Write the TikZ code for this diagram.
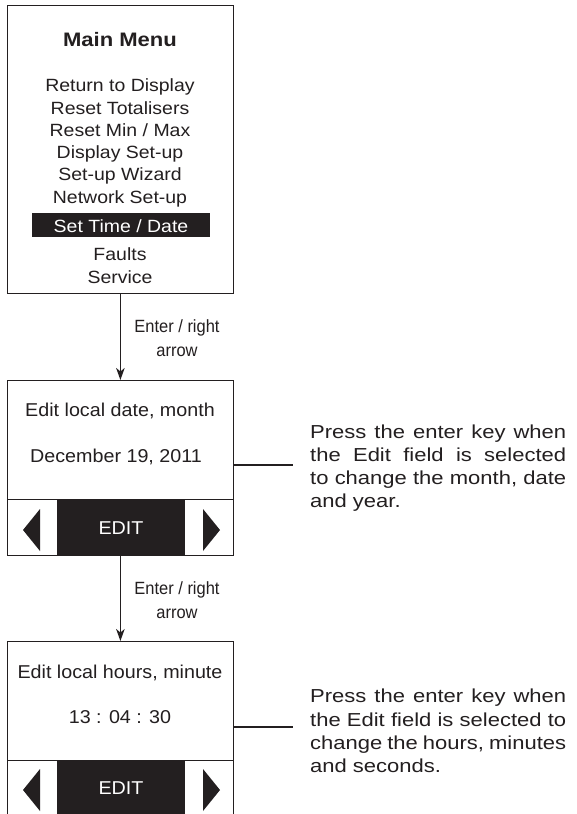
\documentclass[tikz,border=0pt]{standalone}
\usepackage{fontspec}
\setmainfont{Liberation Sans}
\newfontfamily\menufont[FakeStretch=1.1]{Liberation Sans}
\newfontfamily\titlefont[FakeStretch=1.13]{Liberation Sans}
\newfontfamily\boxfont[FakeStretch=1.06]{Liberation Sans}
\newfontfamily\lblfont[FakeStretch=0.93]{Liberation Sans}
\newfontfamily\notefont[FakeStretch=1.17]{Liberation Sans}
\usetikzlibrary{arrows.meta}
\definecolor{ink}{HTML}{231F20}
\begin{document}
\begin{tikzpicture}[x=1pt,y=-1pt,
  frame/.style={draw=ink, line width=1.3pt, fill=white, inner sep=0pt, anchor=north west},
  blackcell/.style={fill=ink, inner sep=0pt, anchor=north west, minimum width=128pt, minimum height=56pt},
  titletext/.style={anchor=base, inner sep=0pt, text=ink, font=\titlefont\bfseries\fontsize{19.5}{22}\selectfont},
  item/.style={anchor=base, inner sep=0pt, text=ink, font=\menufont\fontsize{17.7}{20}\selectfont},
  hlitem/.style={anchor=base, inner sep=0pt, text=white, font=\menufont\fontsize{17.7}{20}\selectfont},
  boxtext/.style={anchor=base, inner sep=0pt, text=ink, font=\boxfont\fontsize{18.6}{21}\selectfont},
  edittext/.style={anchor=base, inner sep=0pt, text=white, font=\boxfont\fontsize{18.6}{21}\selectfont},
  lbl/.style={anchor=base, inner sep=0pt, text=ink, font=\lblfont\fontsize{17.7}{20}\selectfont},
  note/.style={anchor=base west, inner sep=0pt, text=ink, font=\notefont\fontsize{18.8}{22}\selectfont},
  flow/.style={draw=ink, line width=1.3pt, -{Stealth[length=12pt,width=8.5pt,inset=3.5pt]}},
  lead/.style={draw=ink, line width=1.1pt},
  tri/.style={fill=ink}
]
\clip (0,0) rectangle (577,814);
\fill[white] (0,0) rectangle (577,814);

% ---------- Main menu ----------
\node[frame, minimum width=225.5pt, minimum height=288pt] (menu) at (7,5) {};
\node[titletext] (title) at (120,46.7) {Main Menu};
\node[item] (m1) at (120,91.7) {Return to Display};
\node[item] (m2) at (120,114.0) {Reset Totalisers};
\node[item] (m3) at (120,136.3) {Reset Min / Max};
\node[item] (m4) at (120,158.6) {Display Set-up};
\node[item] (m5) at (120,180.9) {Set-up Wizard};
\node[item] (m6) at (120,203.2) {Network Set-up};
\node[fill=ink, inner sep=0pt, anchor=north west, minimum width=178pt, minimum height=24pt] (hl) at (32,213) {};
\node[hlitem] (m7) at (121,232.3) {Set Time / Date};
\node[item] (m8) at (120,260.7) {Faults};
\node[item] (m9) at (120,283.3) {Service};

% ---------- Screen 2 ----------
\node[frame, minimum width=225.5pt, minimum height=175pt] (b2) at (7,380) {};
\node[frame, minimum width=225.5pt, minimum height=56pt] (r2) at (7,499) {};
\node[blackcell] (e2) at (57,499) {};
\node[edittext] (edit2) at (121,534.3) {EDIT};
\fill[tri] (23,530) -- (40,509) -- (40,551) -- cycle;
\fill[tri] (203,509) -- (220,530) -- (203,551) -- cycle;
\node[boxtext] (t2a) at (120,416.7) {Edit local date, month};
\node[boxtext] (t2b) at (116,462.7) {December 19, 2011};

% ---------- Screen 3 ----------
\node[frame, minimum width=225.5pt, minimum height=175pt] (b3) at (7,641) {};
\node[frame, minimum width=225.5pt, minimum height=56pt] (r3) at (7,760) {};
\node[blackcell] (e3) at (57,760) {};
\node[edittext] (edit3) at (121,794.3) {EDIT};
\fill[tri] (23,790) -- (40,769) -- (40,811) -- cycle;
\fill[tri] (203,769) -- (220,790) -- (203,811) -- cycle;
\node[boxtext] (t3a) at (120,678.3) {Edit local hours, minute};
\node[boxtext] (t3b) at (120,723.3) {13 : 04 : 30};

% ---------- Flow arrows ----------
\draw[flow] (menu.south) -- (b2.north);
\node[lbl] (l1a) at (177,332.7) {Enter / right};
\node[lbl] (l1b) at (177,356.5) {arrow};
\draw[flow] (r2.south) -- (b3.north);
\node[lbl] (l2a) at (177,594.3) {Enter / right};
\node[lbl] (l2b) at (177,618) {arrow};

% ---------- Notes ----------
\coordinate (c1) at (293,465);
\draw[lead] (b2.east |- c1) -- (c1);
\node[note] (n1a) at (310,438) {\makebox[256pt][s]{Press the enter key when}};
\node[note] (n1b) at (310,461.3) {\makebox[256pt][s]{the Edit field is selected}};
\node[note] (n1c) at (310,484.6) {\makebox[256pt][s]{to change the month, date}};
\node[note] (n1d) at (310,507.9) {and year.};

\coordinate (c2) at (293,727);
\draw[lead] (b3.east |- c2) -- (c2);
\node[note] (n2a) at (310,702.7) {\makebox[256pt][s]{Press the enter key when}};
\node[note] (n2b) at (310,726) {\makebox[256pt][s]{the Edit field is selected to}};
\node[note] (n2c) at (310,749.3) {\makebox[256pt][s]{change the hours, minutes}};
\node[note] (n2d) at (310,772.6) {and seconds.};
\end{tikzpicture}
\end{document}
